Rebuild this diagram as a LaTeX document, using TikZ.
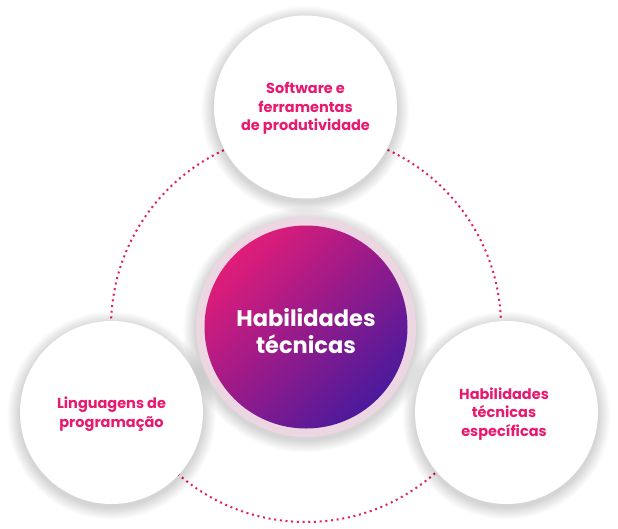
\documentclass[tikz,border=0pt]{standalone}
\usepackage{fontspec}
\setmainfont{Poppins}
\definecolor{pinktext}{HTML}{E8196F}
\definecolor{dotpink}{HTML}{E01F6E}
\definecolor{gradpink}{HTML}{E11C79}
\definecolor{gradpurple}{HTML}{4A1A9C}
\definecolor{halo}{HTML}{ECD6E1}
\newcommand{\softshadow}[3]{% center x, y, radius
  \foreach \k in {1,...,14}{
    \fill[black, opacity=0.011] (#1,#2+3) circle[radius=#3+\k*0.9];
  }}
\tikzset{
  satellite/.style={circle, fill=white, minimum size=183pt, inner sep=0pt},
  sattext/.style={text=pinktext, font=\fontsize{14.5}{18.5}\selectfont\bfseries, align=center},
  ring/.style={draw=dotpink, line width=2pt, dash pattern=on 2pt off 3.7pt},
}
\begin{document}
\begin{tikzpicture}[x=1pt,y=-1pt]
\useasboundingbox (0,0) rectangle (618,528);
\fill[white] (0,0) rectangle (618,528);
\coordinate (c) at (306,327);
\draw[ring] (c) circle[radius=195];
% center halo
\softshadow{306}{327}{110}
\node[circle, fill=halo, minimum size=220pt, inner sep=0pt] (halo) at (c) {};
\shade[shading=axis, top color=gradpink, bottom color=gradpurple, shading angle=45] (c) circle[radius=101.5];
\node[text=white, font=\fontsize{22.5}{27}\selectfont\bfseries, align=center] (main) at (306,331) {Habilidades\\técnicas};
% satellites
\softshadow{305.5}{107}{91.5}
\softshadow{111.5}{412.5}{91.5}
\softshadow{506.5}{412.5}{91.5}
\node[satellite] (top) at (305.5,107) {};
\node[sattext] (toptext) at (305.5,108.5) {Software e\\ferramentas\\de produtividade};
\node[satellite] (left) at (111.5,412.5) {};
\node[sattext] (lefttext) at (111.5,414) {Linguagens de\\programação};
\node[satellite] (right) at (506.5,412.5) {};
\node[sattext] (righttext) at (504,414) {Habilidades\\técnicas\\específicas};
\end{tikzpicture}
\end{document}
